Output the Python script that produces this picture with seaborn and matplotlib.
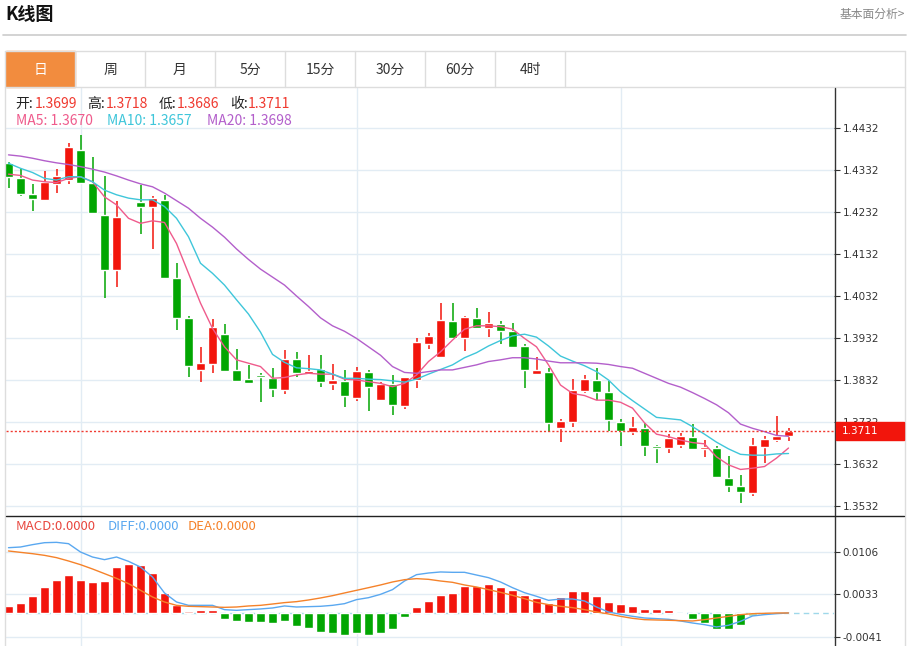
import numpy as np
import matplotlib
matplotlib.use('Agg')
import matplotlib.pyplot as plt
import seaborn as sns
from matplotlib.patches import Rectangle
from matplotlib.lines import Line2D

# ---------------- data ----------------
opens = [1.4348, 1.4312, 1.4275, 1.4260, 1.4299, 1.4308, 1.4379, 1.4302, 1.4226, 1.4093,
         1.4222, 1.4256, 1.4243, 1.4261, 1.4076, 1.3980, 1.3856, 1.3870, 1.3942, 1.3856,
         1.3834, 1.3844, 1.3836, 1.3808, 1.3881, 1.3846, 1.3858, 1.3822, 1.3830, 1.3790,
         1.3851, 1.3784, 1.3822, 1.3771, 1.3832, 1.3917, 1.3887, 1.3973, 1.3933, 1.3979,
         1.3955, 1.3965, 1.3949, 1.3914, 1.3847, 1.3850, 1.3717, 1.3732, 1.3806, 1.3832,
         1.3803, 1.3731, 1.3709, 1.3717, 1.3676, 1.3671, 1.3677, 1.3697, 1.3667, 1.3670,
         1.3599, 1.3580, 1.3564, 1.3673, 1.3688, 1.3699]
closes = [1.4316, 1.4274, 1.4263, 1.4304, 1.4318, 1.4386, 1.4300, 1.4230, 1.4093, 1.4219,
          1.4224, 1.4244, 1.4265, 1.4076, 1.3980, 1.3865, 1.3872, 1.3957, 1.3854, 1.3830,
          1.3826, 1.3838, 1.3810, 1.3881, 1.3848, 1.3854, 1.3827, 1.3832, 1.3795, 1.3853,
          1.3816, 1.3822, 1.3772, 1.3838, 1.3922, 1.3937, 1.3974, 1.3933, 1.3981, 1.3955,
          1.3967, 1.3949, 1.3911, 1.3856, 1.3856, 1.3730, 1.3734, 1.3808, 1.3835, 1.3804,
          1.3737, 1.3711, 1.3719, 1.3675, 1.3671, 1.3695, 1.3699, 1.3668, 1.3672, 1.3600,
          1.3580, 1.3566, 1.3677, 1.3691, 1.3699, 1.3711]
highs = [1.4351, 1.4334, 1.4299, 1.4329, 1.4334, 1.4396, 1.4415, 1.4362, 1.4318, 1.4258,
         1.4225, 1.4296, 1.4271, 1.4272, 1.4110, 1.3984, 1.3910, 1.3977, 1.3965, 1.3905,
         1.3868, 1.3849, 1.3861, 1.3903, 1.3899, 1.3892, 1.3892, 1.3870, 1.3856, 1.3862,
         1.3856, 1.3828, 1.3844, 1.3839, 1.3931, 1.3945, 1.4016, 1.4015, 1.3985, 1.4003,
         1.3995, 1.3972, 1.3967, 1.3917, 1.3887, 1.3860, 1.3738, 1.3834, 1.3844, 1.3861,
         1.3830, 1.3738, 1.3743, 1.3729, 1.3677, 1.3703, 1.3705, 1.3727, 1.3689, 1.3675,
         1.3651, 1.3606, 1.3693, 1.3699, 1.3746, 1.3718]
lows = [1.4290, 1.4271, 1.4235, 1.4258, 1.4277, 1.4299, 1.4298, 1.4228, 1.4028, 1.4054,
        1.4221, 1.4179, 1.4144, 1.4074, 1.3951, 1.3840, 1.3828, 1.3849, 1.3853, 1.3828,
        1.3825, 1.3780, 1.3792, 1.3798, 1.3840, 1.3845, 1.3816, 1.3808, 1.3768, 1.3783,
        1.3759, 1.3783, 1.3749, 1.3763, 1.3812, 1.3905, 1.3886, 1.3930, 1.3902, 1.3954,
        1.3935, 1.3917, 1.3907, 1.3814, 1.3846, 1.3709, 1.3685, 1.3721, 1.3800, 1.3784,
        1.3711, 1.3675, 1.3701, 1.3651, 1.3634, 1.3659, 1.3669, 1.3667, 1.3649, 1.3599,
        1.3566, 1.3540, 1.3556, 1.3634, 1.3685, 1.3686]

ma5 = [1.4322, 1.4319, 1.4308, 1.4304, 1.4302, 1.4312, 1.4316, 1.4304, 1.4268, 1.4249,
       1.4217, 1.4205, 1.4211, 1.4207, 1.4157, 1.4086, 1.4015, 1.3955, 1.3911, 1.3880,
       1.3872, 1.3864, 1.3836, 1.3838, 1.3844, 1.3848, 1.3846, 1.3846, 1.3834, 1.3832,
       1.3828, 1.3824, 1.3816, 1.3824, 1.3844, 1.3876, 1.3899, 1.3927, 1.3953, 1.3961,
       1.3961, 1.3959, 1.3953, 1.3931, 1.3911, 1.3868, 1.3820, 1.3800, 1.3795, 1.3784,
       1.3784, 1.3779, 1.3765, 1.3730, 1.3703, 1.3697, 1.3689, 1.3683, 1.3680, 1.3649,
       1.3630, 1.3619, 1.3622, 1.3626, 1.3646, 1.3670]
ma10 = [1.4348, 1.4336, 1.4326, 1.4312, 1.4308, 1.4316, 1.4316, 1.4304, 1.4284, 1.4273,
        1.4265, 1.4261, 1.4261, 1.4245, 1.4217, 1.4173, 1.4110, 1.4086, 1.4058, 1.4023,
        1.3989, 1.3946, 1.3893, 1.3874, 1.3861, 1.3859, 1.3856, 1.3846, 1.3836, 1.3836,
        1.3834, 1.3833, 1.3830, 1.3827, 1.3834, 1.3846, 1.3857, 1.3868, 1.3885, 1.3897,
        1.3913, 1.3926, 1.3937, 1.3941, 1.3934, 1.3913, 1.3889, 1.3877, 1.3866, 1.3852,
        1.3832, 1.3804, 1.3783, 1.3763, 1.3743, 1.3740, 1.3737, 1.3721, 1.3703, 1.3684,
        1.3668, 1.3655, 1.3653, 1.3653, 1.3656, 1.3657]
ma20 = [1.4368, 1.4365, 1.4360, 1.4354, 1.4349, 1.4345, 1.4340, 1.4334, 1.4327, 1.4318,
        1.4308, 1.4299, 1.4292, 1.4277, 1.4259, 1.4241, 1.4217, 1.4196, 1.4172, 1.4144,
        1.4119, 1.4096, 1.4077, 1.4058, 1.4032, 1.4007, 1.3980, 1.3961, 1.3948, 1.3931,
        1.3911, 1.3891, 1.3864, 1.3850, 1.3848, 1.3852, 1.3856, 1.3856, 1.3862, 1.3868,
        1.3876, 1.3880, 1.3885, 1.3885, 1.3882, 1.3877, 1.3873, 1.3873, 1.3873, 1.3872,
        1.3869, 1.3864, 1.3860, 1.3848, 1.3836, 1.3824, 1.3815, 1.3802, 1.3788, 1.3773,
        1.3754, 1.3727, 1.3717, 1.3709, 1.3700, 1.3698]

macd = [0.00116, 0.00168, 0.00290, 0.00458, 0.00574, 0.00655, 0.00574, 0.00539, 0.00550, 0.00794,
        0.00846, 0.00829, 0.00690, 0.00342, 0.00145, 0.00030, 0.00046, 0.00058, -0.00104, -0.00145,
        -0.00162, -0.00162, -0.00180, -0.00139, -0.00220, -0.00260, -0.00325, -0.00354, -0.00382, -0.00348,
        -0.00382, -0.00348, -0.00278, -0.00075, 0.00104, 0.00214, 0.00307, 0.00354, 0.00475, 0.00469,
        0.00498, 0.00458, 0.00394, 0.00313, 0.00267, 0.00180, 0.00272, 0.00382, 0.00382, 0.00295,
        0.00191, 0.00151, 0.00127, 0.00070, 0.00064, 0.00052, -0.00023, -0.00104, -0.00174, -0.00284,
        -0.00278, -0.00214, -0.00058, -0.00030, -0.00010, 0.0]
diff = [0.01135, 0.01147, 0.01188, 0.01222, 0.01228, 0.01205, 0.01060, 0.00973, 0.00927, 0.00973,
        0.00898, 0.00799, 0.00626, 0.00348, 0.00191, 0.00133, 0.00133, 0.00133, 0.00058, 0.00046,
        0.00058, 0.00070, 0.00087, 0.00122, 0.00104, 0.00110, 0.00116, 0.00133, 0.00162, 0.00232,
        0.00266, 0.00324, 0.00406, 0.00556, 0.00666, 0.00695, 0.00713, 0.00707, 0.00707, 0.00660,
        0.00614, 0.00539, 0.00440, 0.00353, 0.00290, 0.00220, 0.00243, 0.00243, 0.00209, 0.00104,
        0.00017, -0.00023, -0.00058, -0.00087, -0.00098, -0.00110, -0.00139, -0.00174, -0.00203, -0.00243,
        -0.00214, -0.00145, -0.00052, -0.00029, -0.00012, 0.0]
dea = [0.01078, 0.01054, 0.01031, 0.01002, 0.00962, 0.00904, 0.00840, 0.00765, 0.00684, 0.00602,
       0.00510, 0.00394, 0.00278, 0.00191, 0.00133, 0.00116, 0.00110, 0.00104, 0.00098, 0.00104,
       0.00122, 0.00133, 0.00156, 0.00180, 0.00197, 0.00226, 0.00261, 0.00301, 0.00348, 0.00394,
       0.00440, 0.00487, 0.00539, 0.00579, 0.00597, 0.00585, 0.00556, 0.00533, 0.00487, 0.00452,
       0.00406, 0.00359, 0.00307, 0.00249, 0.00185, 0.00145, 0.00116, 0.00093, 0.00058, 0.00017,
       -0.00017, -0.00058, -0.00093, -0.00116, -0.00122, -0.00127, -0.00133, -0.00139, -0.00116, -0.00087,
       -0.00058, -0.00029, -0.00012, -0.00006, 0.0, 0.0]
light_bars = [15, 56, 62, 63, 64]

price_ticks = [1.3532, 1.3632, 1.3732, 1.3832, 1.3932, 1.4032, 1.4132, 1.4232, 1.4332, 1.4432]
macd_ticks = [-0.0041, 0.0033, 0.0106]
vgrid_idx = [6, 29, 51]
tabs = ['日', '周', '月', '5分', '15分', '30分', '60分', '4时']
last_price = 1.3711

# ---------------- style ----------------
sns.set_style('white')
plt.rcParams['font.family'] = ['Noto Sans CJK SC', 'DejaVu Sans']

RED = '#f2150c'
GREEN = '#02a602'
C_MA5 = '#ef5b8c'
C_MA10 = '#3fc6da'
C_MA20 = '#b35fcb'
C_DIFF = '#5aa8f0'
C_DEA = '#f5822a'
GRID = '#e2ecf4'

W, H = 909, 646
fig = plt.figure(figsize=(W / 100, H / 100), dpi=100)


def fx(x):
    return x / W


def fy(y):
    return 1 - y / H


idx = np.arange(len(opens))
x_lo, x_hi = (6 - 8.5) / 12, (834 - 8.5) / 12

# ---------------- price pane ----------------
ax = fig.add_axes([fx(6), fy(516), fx(828), 428 / H])
ax.set_xlim(x_lo, x_hi)
ax.set_ylim(1.35082, 1.45272)
for s in ax.spines.values():
    s.set_visible(False)
for t in price_ticks:
    ax.axhline(t, color=GRID, lw=1, zorder=0)
for v in vgrid_idx:
    ax.axvline(v, color=GRID, lw=1, zorder=0)

o, c = np.array(opens), np.array(closes)
colors = [RED if cc >= oo else GREEN for oo, cc in zip(o, c)]
body_h = np.maximum(np.abs(c - o), 0.00025)
ax.vlines(idx, lows, highs, colors=colors, lw=1.1, zorder=2)
ax.bar(idx, body_h, bottom=np.minimum(o, c), width=0.74, color=colors, zorder=3)

sns.lineplot(x=idx, y=ma5, ax=ax, color=C_MA5, lw=1, zorder=4)
sns.lineplot(x=idx, y=ma10, ax=ax, color=C_MA10, lw=1, zorder=4)
sns.lineplot(x=idx, y=ma20, ax=ax, color=C_MA20, lw=1, zorder=4)
ax.axhline(last_price, color='#f03a30', ls=(0, (1.5, 1.5)), lw=1, zorder=5)

ax.yaxis.tick_right()
ax.set_yticks(price_ticks)
ax.set_yticklabels([f'{t:.4f}' for t in price_ticks])
ax.tick_params(axis='y', direction='out', length=4, width=0.8, color='#333333',
               labelsize=7.5, labelcolor='#333333', pad=2)
ax.set_xticks([])
ax.set_xlabel('')
ax.set_ylabel('')
for lab in ax.get_yticklabels():
    lab.set_family('DejaVu Sans')

# ---------------- MACD pane ----------------
ax2 = fig.add_axes([fx(6), 0, fx(828), 130 / H])
ax2.set_xlim(x_lo, x_hi)
ax2.set_ylim(-0.00574, 0.01686)
for s in ax2.spines.values():
    s.set_visible(False)
for t in macd_ticks:
    ax2.axhline(t, color=GRID, lw=1, zorder=0)
for v in vgrid_idx:
    ax2.axvline(v, color=GRID, lw=1, zorder=0)
ax2.axhline(0, color='#9fd8ea', ls=(0, (4, 3)), lw=1, zorder=1)

bar_colors = []
for i, m in enumerate(macd):
    if m >= 0:
        bar_colors.append('#f7a39c' if i in light_bars else RED)
    else:
        bar_colors.append('#9fdca8' if i in light_bars else GREEN)
ax2.bar(idx, macd, width=0.72, color=bar_colors, zorder=2)
sns.lineplot(x=idx, y=diff, ax=ax2, color=C_DIFF, lw=1, zorder=3)
sns.lineplot(x=idx, y=dea, ax=ax2, color=C_DEA, lw=1, zorder=3)

ax2.yaxis.tick_right()
ax2.set_yticks(macd_ticks)
ax2.set_yticklabels([f'{t:.4f}' for t in macd_ticks])
ax2.tick_params(axis='y', direction='out', length=4, width=0.8, color='#333333',
                labelsize=7.5, labelcolor='#333333', pad=2)
ax2.set_xticks([])
ax2.set_xlabel('')
ax2.set_ylabel('')
for lab in ax2.get_yticklabels():
    lab.set_family('DejaVu Sans')

# ---------------- frame, header, tabs ----------------
def fline(x0, y0, x1, y1, color, lw=1):
    fig.add_artist(Line2D([fx(x0), fx(x1)], [fy(y0), fy(y1)], color=color, lw=lw,
                          transform=fig.transFigure))


fline(3, 35, 906, 35, '#cccccc', 1.2)
fline(5, 51, 905, 51, '#dddddd')
fline(5, 87, 905, 87, '#dddddd')
fline(5, 51, 5, 646, '#dddddd')
fline(905, 51, 905, 646, '#dddddd')
fline(834.5, 88, 834.5, 646, '#333333', 1)
fline(6, 516, 904, 516, '#222222', 1)

fig.add_artist(Rectangle((fx(6), fy(87)), fx(69), 36 / H, color='#f28c3e',
                         transform=fig.transFigure, zorder=1))
for k, name in enumerate(tabs):
    x0 = 5 + 70 * k
    fline(x0 + 70, 51, x0 + 70, 87, '#dddddd')
    fig.text(fx(x0 + 35), fy(70), name, ha='center', va='center', fontsize=10,
             color='white' if k == 0 else '#333333', zorder=3)

fig.text(fx(5), fy(15), 'K线图', ha='left', va='center', fontsize=13,
         fontweight='bold', color='#111111')
fig.text(fx(905), fy(14), '基本面分析>', ha='right', va='center', fontsize=8.5,
         color='#888888')

# last price label on the axis (it covers the 1.3732 tick label, as in the source)
fig.add_artist(Rectangle((fx(836), fy(440)), fx(68), 18 / H, color=RED,
                         transform=fig.transFigure, zorder=5))
fig.text(fx(842), fy(431), f'{last_price:.4f}', ha='left', va='center',
         fontsize=7.5, color='white', family='DejaVu Sans', zorder=6)

# ---------------- info lines ----------------
LRED = '#f03a30'
parts1 = [(15, '开:', '#222222'), (35, f'{opens[-1]:.4f}', LRED),
          (87, '高:', '#222222'), (106, f'{highs[-1]:.4f}', LRED),
          (159, '低:', '#222222'), (177, f'{lows[-1]:.4f}', LRED),
          (230, '收:', '#222222'), (248, f'{closes[-1]:.4f}', LRED)]
for x, s, col in parts1:
    fig.text(fx(x), fy(104), s, ha='left', va='center', fontsize=10, color=col)

parts2 = [(16, f'MA5: {ma5[-1]:.4f}', C_MA5), (107, f'MA10: {ma10[-1]:.4f}', C_MA10),
          (207, f'MA20: {ma20[-1]:.4f}', C_MA20)]
for x, s, col in parts2:
    fig.text(fx(x), fy(121), s, ha='left', va='center', fontsize=10, color=col)

parts3 = [(16, 'MACD:0.0000', '#e8473f'), (108, 'DIFF:0.0000', C_DIFF),
          (188, 'DEA:0.0000', C_DEA)]
for x, s, col in parts3:
    fig.text(fx(x), fy(527), s, ha='left', va='center', fontsize=9.5, color=col)

fig.savefig('out.png', dpi=100)
